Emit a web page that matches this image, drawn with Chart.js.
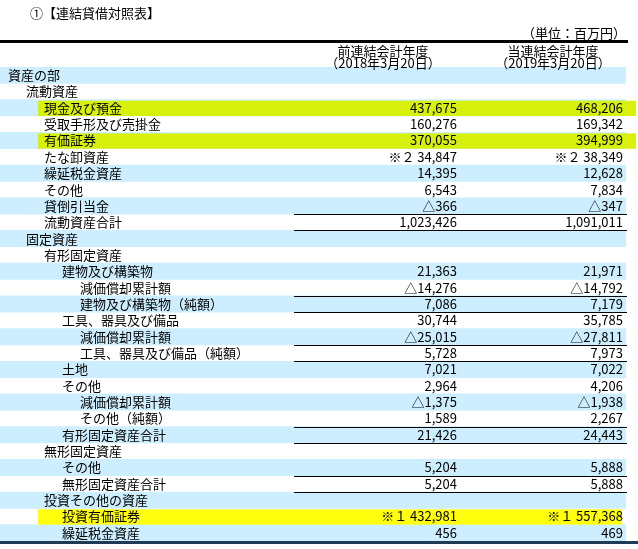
<!DOCTYPE html>
<html>
<head>
<meta charset="utf-8">
<script src="https://cdn.jsdelivr.net/npm/chart.js@4/dist/chart.umd.min.js"></script>
<style>
  body { margin: 0; background: #fff; }
  #wrap { width: 638px; height: 549px; position: relative; }
</style>
</head>
<body>
<div id="wrap"><canvas id="bsChart" width="638" height="549" style="width:638px;height:549px"></canvas></div>
<script>
const rowLabels = ['資産の部', '流動資産', '現金及び預金', '受取手形及び売掛金', '有価証券', 'たな卸資産',
    '繰延税金資産', 'その他', '貸倒引当金', '流動資産合計', '固定資産', '有形固定資産', '建物及び構築物',
    '減価償却累計額', '建物及び構築物（純額）', '工具、器具及び備品', '減価償却累計額', '工具、器具及び備品（純額）',
    '土地', 'その他', '減価償却累計額', 'その他（純額）', '有形固定資産合計', '無形固定資産', 'その他',
    '無形固定資産合計', '投資その他の資産', '投資有価証券', '繰延税金資産'];
const indents = [0, 1, 2, 2, 2, 2, 2, 2, 2, 2, 1, 2, 3, 4, 4, 3, 4, 4, 3, 3, 4, 4, 3, 2, 3, 3, 2, 3, 3];
const prevYear = ['', '', '437,675', '160,276', '370,055', '※２ 34,847', '14,395', '6,543', '△366', '1,023,426',
    '', '', '21,363', '△14,276', '7,086', '30,744', '△25,015', '5,728', '7,021', '2,964', '△1,375', '1,589',
    '21,426', '', '5,204', '5,204', '', '※１ 432,981', '456'];
const currYear = ['', '', '468,206', '169,342', '394,999', '※２ 38,349', '12,628', '7,834', '△347', '1,091,011',
    '', '', '21,971', '△14,792', '7,179', '35,785', '△27,811', '7,973', '7,022', '4,206', '△1,938', '2,267',
    '24,443', '', '5,888', '5,888', '', '※１ 557,368', '469'];
const columnHeads = [['前連結会計年度', '（2018年3月20日）'], ['当連結会計年度', '（2019年3月20日）']];
const highlightRows = [2, 4, 27];
const subtotalRows = [9, 14, 17, 22, 25];

const font = '13px "Noto Sans CJK JP", sans-serif';

const tablePlugin = {
    id: 'tableText',
    afterDatasetsDraw(chart) {
        const c = chart.ctx;
        const y = chart.scales.y;
        const half = (y.getPixelForValue(1) - y.getPixelForValue(0)) / 2;
        c.save();

        // 蛍光ペンのマーカー
        highlightRows.forEach(function (i) {
            const py = y.getPixelForValue(i);
            c.fillStyle = i % 2 === 0 ? 'rgba(215,240,0,0.95)' : 'rgba(255,255,0,0.95)';
            c.fillRect(38, py - half + 1, i === 27 ? 584 : 598, half * 2 - 1);
        });

        c.font = font;
        c.fillStyle = '#000';
        c.textBaseline = 'middle';

        // タイトルと単位
        c.textAlign = 'left';
        c.fillText('①【連結貸借対照表】', 30, 13);
        c.textAlign = 'right';
        c.fillText('（単位：百万円）', 626, 33);

        // 見出し
        c.fillRect(0, 40, 628, 3);
        c.textAlign = 'center';
        c.fillText(columnHeads[0][0], 383, 51);
        c.fillText(columnHeads[0][1], 383, 63);
        c.fillText(columnHeads[1][0], 553, 51);
        c.fillText(columnHeads[1][1], 553, 63);

        // 各行
        rowLabels.forEach(function (label, i) {
            const py = y.getPixelForValue(i);
            c.textAlign = 'left';
            c.fillText(label, 8 + indents[i] * 18, py);
            c.textAlign = 'right';
            c.fillText(prevYear[i], 457, py);
            c.fillText(currYear[i], 623, py);
        });

        // 小計の罫線
        c.fillStyle = '#000';
        subtotalRows.forEach(function (i) {
            const py = y.getPixelForValue(i);
            c.fillRect(294, Math.round(py - half), 333, 1);
            c.fillRect(294, Math.round(py + half), 333, 1);
        });

        c.fillStyle = '#1f3a55';
        c.fillRect(0, Math.round(y.getPixelForValue(rowLabels.length - 1) + half), 638, 3);
        c.restore();
    }
};

new Chart(document.getElementById('bsChart'), {
    type: 'bar',
    data: {
        labels: rowLabels,
        datasets: [{
            data: rowLabels.map(() => 1),
            backgroundColor: rowLabels.map((_, i) => i % 2 === 0 ? '#cdeefe' : 'rgba(0,0,0,0)'),
            barPercentage: 1,
            categoryPercentage: 1,
            borderWidth: 0
        }]
    },
    options: {
        indexAxis: 'y',
        responsive: false,
        animation: false,
        devicePixelRatio: 1,
        layout: { padding: { top: 67, bottom: 8, left: 0, right: 12 } },
        plugins: { legend: { display: false }, tooltip: { enabled: false } },
        scales: {
            x: { display: false, min: 0, max: 1 },
            y: { display: false }
        }
    },
    plugins: [tablePlugin]
});
</script>
</body>
</html>
